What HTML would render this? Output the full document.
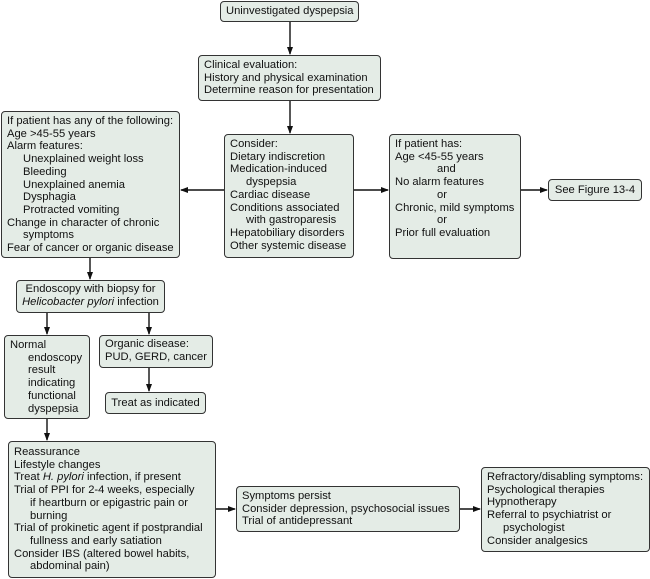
<!DOCTYPE html>
<html><head><style>
body{margin:0;width:650px;height:579px;background:#fff;position:relative;overflow:hidden;font-family:"Liberation Sans",Arial,sans-serif;font-size:11.2px;color:#111}
.b{position:absolute;box-sizing:border-box;background:#e4ece6;border:1.3px solid #333;border-radius:4px;padding:3px 5px;line-height:12.7px;white-space:nowrap}
.i{padding-left:16px}
svg{position:absolute;left:0;top:0}
</style></head><body>
<svg width="650" height="579">
<defs><marker id="a" markerWidth="8" markerHeight="8" refX="7" refY="4" orient="auto" markerUnits="userSpaceOnUse"><path d="M0,1 L8,4 L0,7 Z" fill="#111"/></marker></defs>
<g stroke="#111" stroke-width="1.4" fill="none">
<line x1="290" y1="21" x2="290" y2="54" marker-end="url(#a)"/>
<line x1="290" y1="101" x2="290" y2="133" marker-end="url(#a)"/>
<line x1="224" y1="190" x2="181" y2="190" marker-end="url(#a)"/>
<line x1="354" y1="190" x2="388" y2="190" marker-end="url(#a)"/>
<line x1="521" y1="190" x2="547" y2="190" marker-end="url(#a)"/>
<line x1="90" y1="258" x2="90" y2="279" marker-end="url(#a)"/>
<line x1="47" y1="313" x2="47" y2="334" marker-end="url(#a)"/>
<line x1="149" y1="313" x2="149" y2="334" marker-end="url(#a)"/>
<line x1="149" y1="368" x2="149" y2="391" marker-end="url(#a)"/>
<line x1="47" y1="419" x2="47" y2="440" marker-end="url(#a)"/>
<line x1="216" y1="509" x2="235" y2="509" marker-end="url(#a)"/>
<line x1="460" y1="509" x2="480" y2="509" marker-end="url(#a)"/>
</g></svg>

<div class="b" style="left:220px;top:1px;width:139px;height:21px;padding-top:3px;text-align:center">Uninvestigated dyspepsia</div>
<div class="b" style="left:198px;top:55px;width:183px;height:46px">Clinical evaluation:<br>History and physical examination<br>Determine reason for presentation</div>
<div class="b" style="left:1px;top:111px;width:179px;height:147px">If patient has any of the following:<br>Age &gt;45-55 years<br>Alarm features:<div class="i">Unexplained weight loss<br>Bleeding<br>Unexplained anemia<br>Dysphagia<br>Protracted vomiting</div>Change in character of chronic<div class="i">symptoms</div>Fear of cancer or organic disease</div>
<div class="b" style="left:224px;top:134px;width:130px;height:124px">Consider:<br>Dietary indiscretion<br>Medication-induced<div class="i">dyspepsia</div>Cardiac disease<br>Conditions associated<div class="i">with gastroparesis</div>Hepatobiliary disorders<br>Other systemic disease</div>
<div class="b" style="left:389px;top:134px;width:132px;height:125px">If patient has:<br>Age &lt;45-55 years<div style="padding-left:42px">and</div>No alarm features<div style="padding-left:42px">or</div>Chronic, mild symptoms<div style="padding-left:42px">or</div>Prior full evaluation</div>
<div class="b" style="left:548px;top:179px;width:94px;height:22px;padding-top:4px;text-align:center">See Figure 13-4</div>
<div class="b" style="left:16px;top:280px;width:149px;height:33px;text-align:center;padding-top:2px">Endoscopy with biopsy for<br><i>Helicobacter pylori</i> infection</div>
<div class="b" style="left:4px;top:335px;width:86px;height:84px">Normal<div class="i" style="padding-left:18px">endoscopy<br>result<br>indicating<br>functional<br>dyspepsia</div></div>
<div class="b" style="left:99px;top:335px;width:114px;height:33px;padding-top:2px">Organic disease:<br>PUD, GERD, cancer</div>
<div class="b" style="left:105px;top:392px;width:101px;height:22px;padding-top:4px;text-align:center">Treat as indicated</div>
<div class="b" style="left:8px;top:441px;width:208px;height:137px;padding-top:4px">Reassurance<br>Lifestyle changes<br>Treat <i>H. pylori</i> infection, if present<br>Trial of PPI for 2-4 weeks, especially<div class="i">if heartburn or epigastric pain or<br>burning</div>Trial of prokinetic agent if postprandial<div class="i">fullness and early satiation</div>Consider IBS (altered bowel habits,<div class="i">abdominal pain)</div></div>
<div class="b" style="left:236px;top:486px;width:224px;height:46px">Symptoms persist<br>Consider depression, psychosocial issues<br>Trial of antidepressant</div>
<div class="b" style="left:481px;top:467px;width:169px;height:85px">Refractory/disabling symptoms:<br>Psychological therapies<br>Hypnotherapy<br>Referral to psychiatrist or<div class="i">psychologist</div>Consider analgesics</div>
</body></html>
